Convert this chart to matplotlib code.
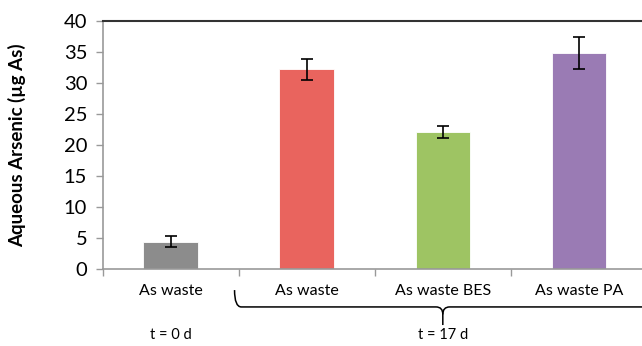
import numpy as np
import matplotlib
matplotlib.use("Agg")
import matplotlib.pyplot as plt
from matplotlib.path import Path
from matplotlib.patches import PathPatch
import matplotlib.transforms as mtransforms

plt.rcParams['font.family'] = ['Lato', 'DejaVu Sans']

# Aqueous arsenic per treatment
labels = ["As waste", "As waste", "As waste BES", "As waste PA"]
values = [4.4, 32.2, 22.1, 34.9]
errors = [0.9, 1.7, 1.0, 2.6]
colors = ["#8c8c8c", "#e9645e", "#9ec463", "#9a7bb4"]
times = ["t = 0 d", "t = 17 d"]

W, H = 642, 346
fig = plt.figure(figsize=(W / 100, H / 100), dpi=100)
left, right, bottom, top = 102.5, 647, 269, 21
ax = fig.add_axes([left / W, 1 - bottom / H, (right - left) / W, (bottom - top) / H])

x = np.arange(len(values))
ax.bar(x, values, width=0.4, color=colors, edgecolor="white", linewidth=0.6, zorder=2)
ax.errorbar(x, values, yerr=errors, fmt="none", ecolor="black", elinewidth=1.2,
            capsize=4, capthick=1.2, zorder=3)

ax.set_xlim(-0.5, len(values) - 0.5)
ax.set_ylim(0, 40)
ax.set_yticks(np.arange(0, 41, 5))
ax.tick_params(axis="y", labelsize=14.5, length=5, color="#999999", width=1, pad=6)

# category labels between boundary ticks
ax.set_xticks(np.arange(-0.5, len(values)))
ax.set_xticklabels([])
ax.set_xticks(x, minor=True)
ax.set_xticklabels(labels, minor=True, fontsize=11.5)
ax.tick_params(axis="x", which="major", length=5, color="#999999", width=1)
ax.tick_params(axis="x", which="minor", length=0, pad=11)

for side in ["left", "bottom"]:
    ax.spines[side].set_color("#999999")
    ax.spines[side].set_linewidth(1.2)
ax.spines["top"].set_color("#333333")
ax.spines["top"].set_linewidth(1.5)
ax.spines["right"].set_visible(False)

ax.set_ylabel("Aqueous Arsenic (\u00b5g As)", fontsize=13.5, fontweight="bold", labelpad=27)

# brace grouping the 17-day samples
trans = mtransforms.blended_transform_factory(ax.transData, ax.transAxes)
x0, xm, x1 = 0.47, 2.0, 3.53
yb, yt, ytip = -0.153, -0.085, -0.226
verts = [(x0, yt), (x0, yb), (x0 + 0.05, yb),
         (xm - 0.05, yb), (xm, yb), (xm, yb - 0.03),
         (xm, ytip)]
codes = [Path.MOVETO, Path.CURVE3, Path.CURVE3,
         Path.LINETO, Path.CURVE3, Path.CURVE3,
         Path.LINETO]
ax.add_patch(PathPatch(Path(verts, codes), fill=False, lw=1.1, edgecolor="black",
                       transform=trans, clip_on=False))
verts_r = [(xm, yb - 0.03), (xm, yb), (xm + 0.05, yb), (x1, yb)]
codes_r = [Path.MOVETO, Path.CURVE3, Path.CURVE3, Path.LINETO]
ax.add_patch(PathPatch(Path(verts_r, codes_r), fill=False, lw=1.1, edgecolor="black",
                       transform=trans, clip_on=False))

ax.text(0, -0.266, times[0], transform=trans, ha="center", va="center", fontsize=10.5)
ax.text(2, -0.266, times[1], transform=trans, ha="center", va="center", fontsize=10.5)

fig.savefig("out.png", dpi=100)
